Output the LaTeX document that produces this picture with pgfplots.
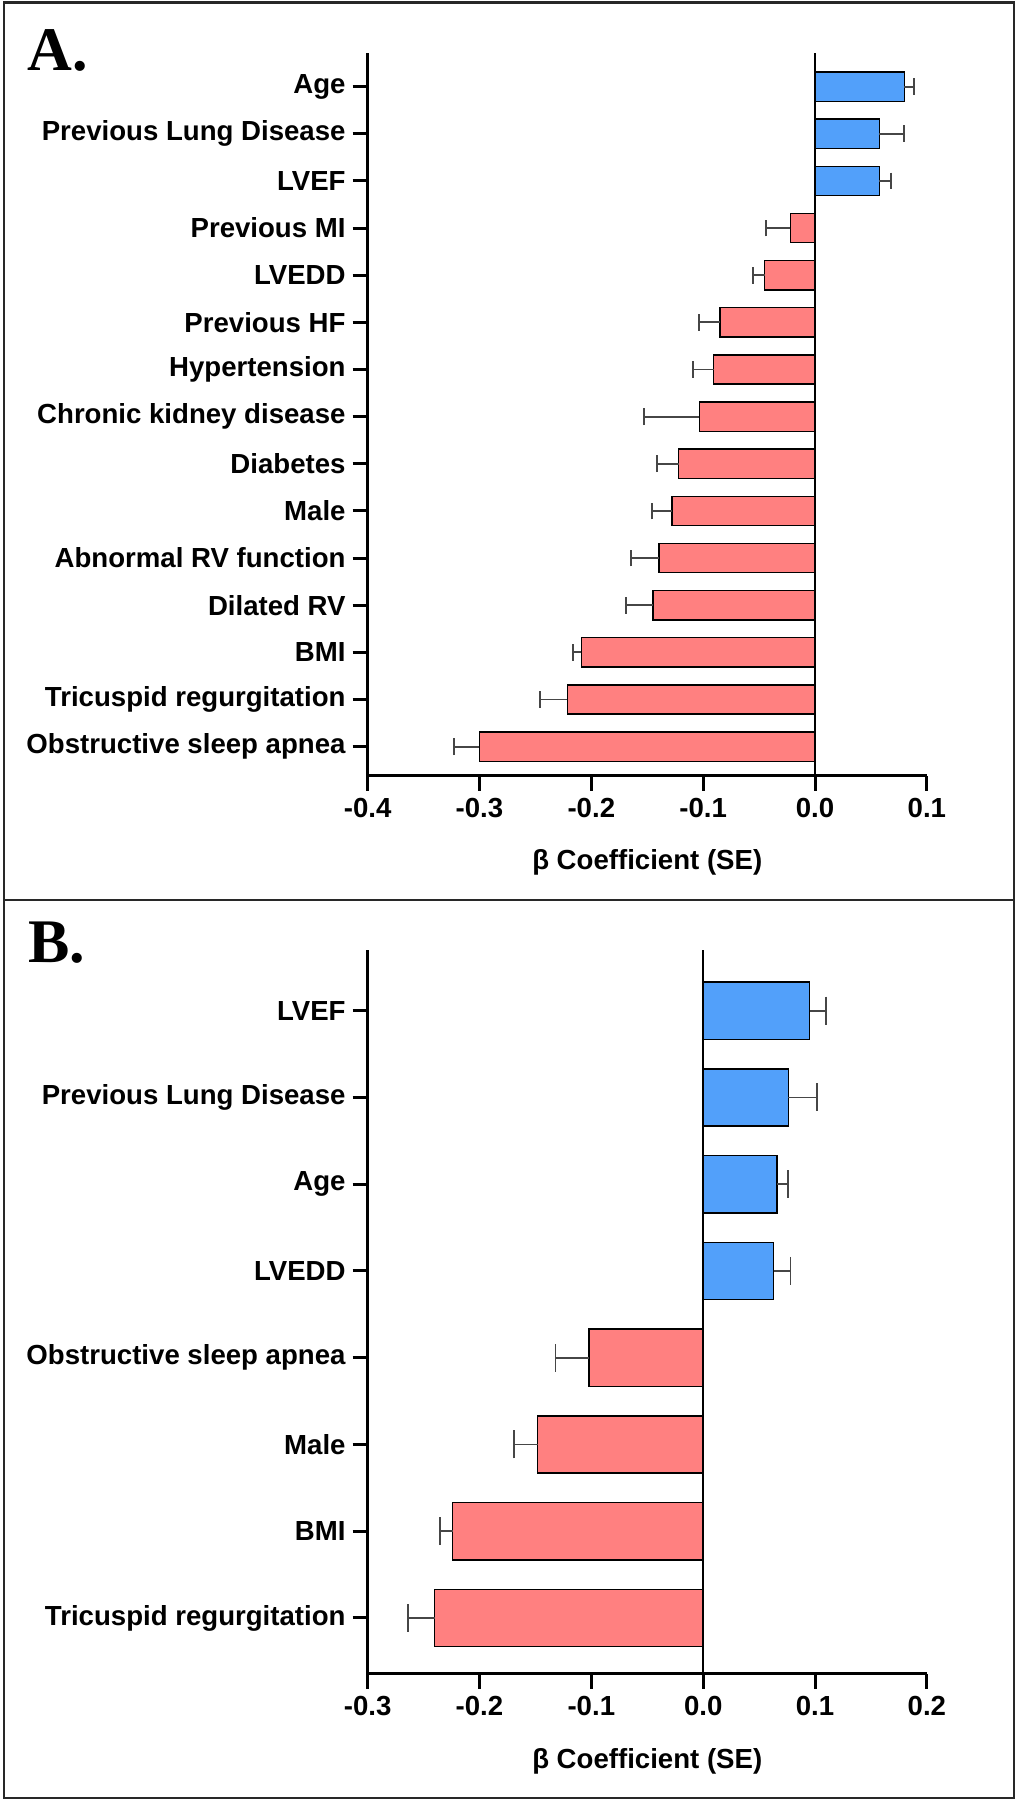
\documentclass[border=0pt]{standalone}
\usepackage{fontspec}
\setmainfont{Liberation Sans}
\newfontfamily\serifbold{Liberation Serif}
\usepackage{pgfplots}
\usepackage{pgfplotstable}
\pgfplotsset{compat=1.18}

\definecolor{barblue}{RGB}{82,160,250}
\definecolor{barred}{RGB}{255,128,128}
\definecolor{errgray}{RGB}{70,70,70}
\definecolor{framegray}{RGB}{40,40,40}

% Panel A
\pgfplotstableread{
idx val se
14 0.0797 0.0087
13 0.0576 0.0221
12 0.0576 0.0104
}\Apos
\pgfplotstableread{
idx val se
11 -0.0220 0.0216
10 -0.0450 0.0105
9 -0.0850 0.0186
8 -0.0907 0.0186
7 -0.1035 0.0495
6 -0.1220 0.0190
5 -0.1280 0.0180
4 -0.1395 0.0250
3 -0.1450 0.0240
2 -0.2090 0.0075
1 -0.2215 0.0245
0 -0.3000 0.0230
}\Aneg
% Panel B
\pgfplotstableread{
idx val se
7 0.0953 0.0145
6 0.0760 0.0260
5 0.0660 0.0100
4 0.0630 0.0150
}\Bpos
\pgfplotstableread{
idx val se
3 -0.1020 0.0300
2 -0.1480 0.0210
1 -0.2240 0.0110
0 -0.2400 0.0240
}\Bneg

\pgfplotsset{
  panel/.style={
    scale only axis,
    width=279.65pt, height=361.65pt,
    axis x line*=bottom, axis y line*=left,
    axis line style={line width=1.5pt, black, -},
    tick align=outside,
    major tick length=7.5pt,
    major tick style={line width=1.5pt, black},
    minor tick num=0,
    ticklabel style={font=\fontsize{13.8}{16}\selectfont\bfseries, text=black},
    xlabel={β Coefficient (SE)},
    xlabel style={font=\fontsize{13.8}{16}\selectfont\bfseries, at={(rel axis cs:0.5,0)}, anchor=base, yshift=-47pt},
    clip=false,
  },
  posbar/.style={xbar, bar shift=0pt, fill=barblue, draw=black, line width=0.7pt,
    error bars/.cd, x dir=plus, x explicit,
    error bar style={line width=0.9pt, errgray},
    error mark options={line width=0.9pt, errgray, rotate=90, mark size=#1}},
  negbar/.style={xbar, bar shift=0pt, fill=barred, draw=black, line width=0.7pt,
    error bars/.cd, x dir=minus, x explicit,
    error bar style={line width=0.9pt, errgray},
    error mark options={line width=0.9pt, errgray, rotate=90, mark size=#1}},
}

\begin{document}
\begin{tikzpicture}
\useasboundingbox (0,0) rectangle (509.5pt,901pt);
\draw[line width=1.25pt, framegray] (2pt,2pt) rectangle (507pt,899.75pt);
\draw[line width=1.1pt, framegray] (2pt,451pt) -- (507pt,451pt);
\node[anchor=base west, inner sep=0pt, font=\serifbold\bfseries\fontsize{31}{31}\selectfont] at (13.5pt,865.65pt) {A.};
\node[anchor=base west, inner sep=0pt, font=\serifbold\bfseries\fontsize{31}{31}\selectfont] at (14pt,419.5pt) {B.};

\begin{axis}[panel,
  at={(183.8pt,513pt)}, anchor=south west,
  xmin=-0.4, xmax=0.1, ymin=-0.622, ymax=14.72,
  xtick={-0.4,-0.3,-0.2,-0.1,0,0.1},
  xticklabels={-0.4,-0.3,-0.2,-0.1,0.0,0.1},
  ytick={0,1,2,3,4,5,6,7,8,9,10,11,12,13,14},
  yticklabels={Obstructive sleep apnea,Tricuspid regurgitation,BMI,Dilated RV,Abnormal RV function,Male,Diabetes,Chronic kidney disease,Hypertension,Previous HF,LVEDD,Previous MI,LVEF,Previous Lung Disease,Age},
]
\addplot[bar width=0.62, posbar=4.2pt] table[x=val, y=idx, x error=se] {\Apos};
\addplot[bar width=0.62, negbar=4.2pt] table[x=val, y=idx, x error=se] {\Aneg};
\addplot[black, line width=1pt, forget plot] coordinates {(0,-0.622) (0,14.72)};
\end{axis}

\begin{axis}[panel,
  at={(183.8pt,64pt)}, anchor=south west, height=362pt,
  xmin=-0.3, xmax=0.2, ymin=-0.646, ymax=7.70,
  xtick={-0.3,-0.2,-0.1,0,0.1,0.2},
  xticklabels={-0.3,-0.2,-0.1,0.0,0.1,0.2},
  ytick={0,1,2,3,4,5,6,7},
  yticklabels={Tricuspid regurgitation,BMI,Male,Obstructive sleep apnea,LVEDD,Age,Previous Lung Disease,LVEF},
]
\addplot[bar width=0.66, posbar=7pt] table[x=val, y=idx, x error=se] {\Bpos};
\addplot[bar width=0.66, negbar=7pt] table[x=val, y=idx, x error=se] {\Bneg};
\addplot[black, line width=1pt, forget plot] coordinates {(0,-0.646) (0,7.70)};
\end{axis}
\end{tikzpicture}
\end{document}
